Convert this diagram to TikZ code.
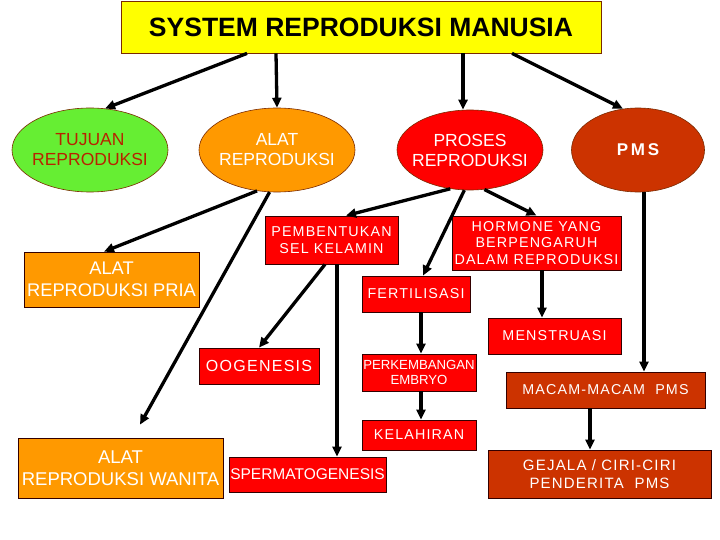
\documentclass[tikz,border=0pt]{standalone}
\usepackage{fontspec}
\setmainfont{Liberation Sans}
\newfontfamily\bxfont[LetterSpace=8]{Liberation Sans}
\usetikzlibrary{shapes.geometric,arrows.meta,calc}
\definecolor{cyel}{HTML}{FFFF00}
\definecolor{cgreen}{HTML}{66EE33}
\definecolor{corange}{HTML}{FF9900}
\definecolor{cred}{HTML}{FF0000}
\definecolor{cbrown}{HTML}{CC3300}
\definecolor{ctxt}{HTML}{B82200}
\definecolor{cedge}{HTML}{7A2A00}
\tikzset{
  ell/.style={ellipse, draw=cedge, line width=0.6pt, minimum width=#1, inner xsep=-20pt, inner ysep=-12pt, align=center, text=white, font=\fontsize{17.5}{20}\selectfont},
  box/.style={rectangle, draw=black!80!red, line width=0.8pt, inner sep=0pt, align=center, text=white, font=\bxfont\fontsize{14.3}{16.5}\selectfont},
  arr/.style={line width=3.3pt, -{Triangle[length=10pt,width=9pt]}},
}
\begin{document}
\begin{tikzpicture}[x=1pt,y=-1pt]
\useasboundingbox (0,0) rectangle (720,540);
\fill[white] (0,0) rectangle (720,540);
% title
\node[rectangle, draw=cedge, line width=0.8pt, fill=cyel, minimum width=480pt, minimum height=52pt, font=\bfseries\fontsize{26.5}{30}\selectfont] (title) at (361,27) {SYSTEM REPRODUKSI MANUSIA};
% ellipses
\node[ell=156pt, minimum height=84pt, fill=cgreen, text=ctxt] (tuj) at (90,150) {TUJUAN\\REPRODUKSI};
\node[ell=156pt, minimum height=84pt, fill=corange] (alat) at (277,150) {ALAT\\REPRODUKSI};
\node[ell=146pt, minimum height=80pt, fill=cred] (proses) at (470,150) {PROSES\\REPRODUKSI};
\node[ell=133pt, minimum height=84pt, fill=cbrown, font=\bfseries\fontsize{17}{19}\selectfont] (pms) at (638,150) {P\,M\,S};
% boxes
\node[box, fill=corange, minimum width=175pt, minimum height=55pt, font=\fontsize{18.3}{22}\selectfont] (pria) at (111.5,279.5) {ALAT\\REPRODUKSI PRIA};
\node[box, fill=cred, minimum width=133pt, minimum height=48pt] (pemb) at (331.5,240) {PEMBENTUKAN\\SEL KELAMIN};
\node[box, fill=cred, minimum width=169pt, minimum height=54pt] (horm) at (536.5,243) {HORMONE YANG\\BERPENGARUH\\DALAM REPRODUKSI};
\node[box, fill=cred, minimum width=108pt, minimum height=36pt] (fert) at (416,294) {FERTILISASI};
\node[box, fill=cred, minimum width=133pt, minimum height=36pt] (mens) at (554.5,336) {MENSTRUASI};
\node[box, fill=cred, minimum width=120pt, minimum height=36pt, font=\bxfont\fontsize{16}{18}\selectfont] (oog) at (259,366) {OOGENESIS};
\node[box, fill=cred, minimum width=114pt, minimum height=37pt, font=\fontsize{13.2}{15}\selectfont] (perk) at (419,372.5) {PERKEMBANGAN\\EMBRYO};
\node[box, fill=cbrown, minimum width=199pt, minimum height=36pt] (macam) at (605.5,390) {MACAM-MACAM\ \ PMS};
\node[box, fill=cred, minimum width=114pt, minimum height=30pt] (kel) at (419,435) {KELAHIRAN};
\node[box, fill=corange, minimum width=205pt, minimum height=60pt, font=\fontsize{18.5}{22}\selectfont] (wanita) at (120.5,468) {ALAT\\REPRODUKSI WANITA};
\node[box, fill=cred, minimum width=157pt, minimum height=35pt, font=\fontsize{15.5}{18}\selectfont] (sperm) at (307.5,474.5) {SPERMATOGENESIS};
\node[box, fill=cbrown, minimum width=223pt, minimum height=48pt, font=\bxfont\fontsize{15}{17.5}\selectfont] (gejala) at (599.5,474) {GEJALA / CIRI-CIRI\\PENDERITA\ \ PMS};
% arrows
\draw[arr] ([xshift=-114pt]title.south) -- (tuj.70);
\draw[arr] ([xshift=-85pt]title.south) -- (alat.north);
\draw[arr] ([xshift=102pt]title.south) -- ([xshift=-7pt]proses.north);
\draw[arr] ([xshift=151pt]title.south) -- (pms.110);
\draw[arr] (alat.244) -- ([xshift=-7.5pt]pria.north);
\draw[arr] (alat.260) -- ([xshift=19.5pt,yshift=13pt]wanita.north);
\draw[arr] (proses.243) -- ([xshift=14.5pt]pemb.north);
\draw[arr] (proses.262) -- ([xshift=7pt]fert.north);
\draw[arr] (proses.290) -- (horm.north);
\draw[arr] ([xshift=6pt]pms.south) -- ([xshift=38.5pt]macam.north);
\draw[arr] ([xshift=-6.5pt]pemb.south) -- (oog.north);
\draw[arr] ([xshift=5.5pt]pemb.south) -- ([xshift=29.5pt]sperm.north);
\draw[arr] ([xshift=5.5pt]horm.south) -- ([xshift=-12.5pt]mens.north);
\draw[arr] ([xshift=5pt]fert.south) -- ([xshift=2pt]perk.north);
\draw[arr] ([xshift=2pt]perk.south) -- ([xshift=2pt]kel.north);
\draw[arr] ([xshift=-15.5pt]macam.south) -- ([xshift=-9.5pt]gejala.north);
\end{tikzpicture}
\end{document}
